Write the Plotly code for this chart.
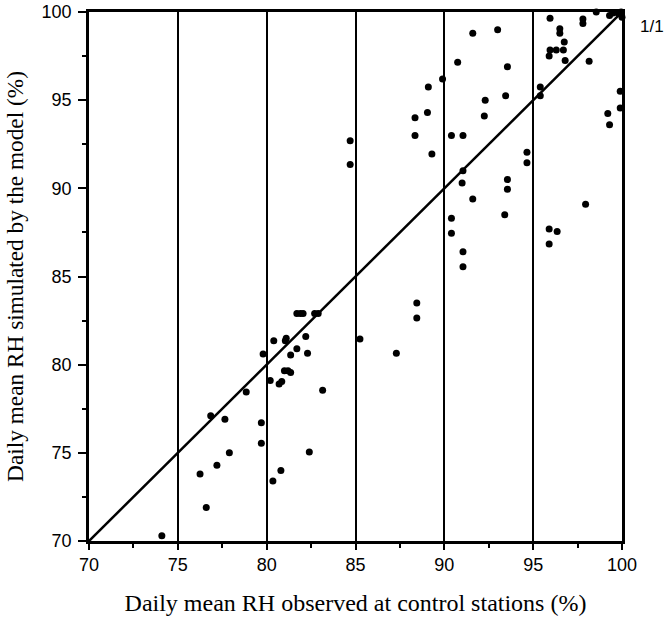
import plotly.graph_objects as go

observed = [74.1, 76.6, 76.25, 77.2, 77.9, 77.65, 76.85, 78.85, 79.7, 79.7,
            79.8, 80.2, 80.4, 80.35, 80.8, 80.7, 80.85, 81.0, 81.2, 81.35,
            81.05, 81.1, 81.35, 81.7, 81.7, 81.9, 82.05, 82.7, 82.9, 82.2,
            82.3, 82.4, 83.15, 85.25, 87.3, 88.45, 88.45, 84.7, 84.7, 88.35,
            89.05, 88.35, 89.3, 89.1, 89.9, 90.75, 91.6, 93.0, 93.55, 90.4,
            91.05, 92.3, 92.25, 93.45, 95.4, 95.4, 94.65, 94.65, 91.05, 91.0,
            93.55, 93.55, 91.6, 93.4, 90.4, 90.4, 91.05, 91.05, 95.9, 96.35,
            95.9, 97.95, 99.2, 99.3, 99.9, 99.9, 95.95, 97.8, 97.8, 98.55,
            99.3, 99.5, 99.8, 99.95, 100.0, 96.5, 96.5, 96.75, 95.95, 96.3,
            96.7, 95.9, 96.8, 98.15]
simulated = [70.3, 71.9, 73.8, 74.3, 75.0, 76.9, 77.1, 78.45, 76.7, 75.55,
             80.6, 79.1, 81.35, 73.4, 74.0, 78.9, 79.05, 79.65, 79.65, 79.55,
             81.35, 81.5, 80.55, 80.9, 82.9, 82.9, 82.9, 82.9, 82.9, 81.6,
             80.65, 75.05, 78.55, 81.45, 80.65, 83.5, 82.65, 92.7, 91.35, 94.0,
             94.3, 93.0, 91.95, 95.75, 96.2, 97.15, 98.8, 99.0, 96.9, 93.0,
             93.0, 95.0, 94.1, 95.25, 95.75, 95.25, 92.05, 91.45, 91.0, 90.3,
             90.5, 89.95, 89.4, 88.5, 88.3, 87.45, 86.4, 85.55, 87.7, 87.55,
             86.85, 89.1, 94.25, 93.6, 95.5, 94.55, 99.65, 99.6, 99.35, 100.0,
             99.8, 99.95, 99.95, 100.0, 99.7, 99.05, 98.8, 98.3, 97.85, 97.85,
             97.85, 97.5, 97.25, 97.2]

one_to_one = [70, 100]
tick_vals = [70, 75, 80, 85, 90, 95, 100]
tick_text = ["70", "75", "80", "85", "90", "95", "100"]

SANS = "Liberation Sans, Arial, sans-serif"
SERIF = "Liberation Serif, Times New Roman, serif"

fig = go.Figure()
fig.add_trace(go.Scatter(x=one_to_one, y=one_to_one, mode="lines",
                         line=dict(color="black", width=2.5),
                         hoverinfo="skip", showlegend=False, cliponaxis=False))
fig.add_trace(go.Scatter(x=observed, y=simulated, mode="markers",
                         marker=dict(color="black", size=7),
                         showlegend=False, cliponaxis=False))

axis_common = dict(
    range=[70, 100], tickvals=tick_vals, ticktext=tick_text,
    showline=True, linecolor="black", linewidth=2.5, mirror=True,
    ticks="outside", tickwidth=2, tickcolor="black",
    tickfont=dict(family=SANS, size=18, color="black"),
    minor=dict(dtick=2.5, tick0=70, ticks="outside", ticklen=4, tickwidth=1.5,
               tickcolor="black", showgrid=False),
    zeroline=False, fixedrange=True,
)

fig.update_xaxes(**axis_common, ticklen=6, showgrid=True, gridcolor="black", gridwidth=2,
                 title=dict(text="Daily mean RH observed at control stations (%)",
                            font=dict(family=SERIF, size=24, color="black"),
                            standoff=20))
fig.update_yaxes(**axis_common, ticklen=8, ticklabelstandoff=3, showgrid=False,
                 title=dict(text="Daily mean RH simulated by the model (%)",
                            font=dict(family=SERIF, size=23.3, color="black"),
                            standoff=12))

fig.add_annotation(x=1, xref="paper", y=99.2, yref="y", text="1/1",
                   showarrow=False, xanchor="left", xshift=16,
                   font=dict(family=SANS, size=17, color="black"))

fig.update_layout(width=666, height=625,
                  margin=dict(l=89, r=44, t=12, b=84, autoexpand=False),
                  plot_bgcolor="white", paper_bgcolor="white")

fig.write_html("out.html")
